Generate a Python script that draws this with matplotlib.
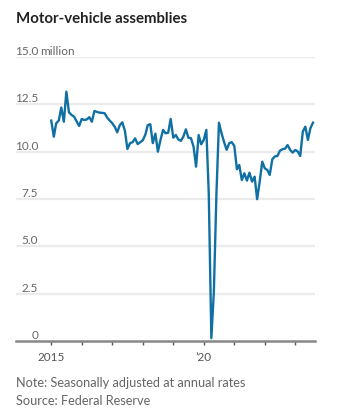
import numpy as np
import pandas as pd
import matplotlib
matplotlib.use("Agg")
import matplotlib.pyplot as plt
import matplotlib.dates as mdates

plt.rcParams['font.family'] = ['Lato', 'DejaVu Sans']

# monthly values, million units (annual rate), Jan 2015 - Aug 2023
assemblies = [
    # 2015
    11.64, 10.79, 11.50, 11.64, 12.33, 11.58, 13.17, 12.08, 11.94, 11.85, 11.60, 11.36,
    # 2016
    11.73, 11.67, 11.70, 11.82, 11.58, 12.15, 12.10, 12.06, 12.05, 12.03, 11.80, 11.64,
    # 2017
    11.50, 11.30, 11.02, 11.40, 11.55, 11.10, 10.14, 10.45, 10.50, 10.70, 10.40, 10.50,
    # 2018
    10.60, 10.90, 11.40, 11.45, 10.45, 10.95, 10.00, 10.62, 11.15, 10.97, 11.00, 11.73,
    # 2019
    10.74, 10.88, 10.65, 10.57, 10.79, 11.18, 10.74, 10.71, 10.26, 9.21, 10.88, 10.39,
    # 2020
    10.62, 11.15, 7.80, 0.15, 2.60, 7.80, 11.53, 10.97, 10.50, 10.10, 10.45, 10.50,
    # 2021
    10.30, 9.07, 9.30, 8.50, 8.86, 8.47, 8.89, 8.42, 8.68, 7.49, 8.42, 9.47,
    # 2022
    9.12, 9.03, 8.77, 9.60, 9.75, 9.77, 10.05, 10.13, 10.16, 10.35, 10.09, 9.95,
    # 2023
    10.09, 10.00, 9.77, 11.06, 11.32, 10.62, 11.24, 11.53,
]
dates = pd.date_range("2015-01-01", periods=len(assemblies), freq="MS")

y_ticks = [0, 2.5, 5.0, 7.5, 10.0, 12.5, 15.0]
y_labels = ["0", "2.5", "5.0", "7.5", "10.0", "12.5", "15.0"]
x_label_years = {2015: "2015", 2020: "\u201920"}

W, H = 337, 415
fig = plt.figure(figsize=(W / 100, H / 100), dpi=100)
ax = fig.add_axes([16 / W, 1 - 341 / H, (315 - 16) / W, (341 - 57) / H])

grid_color = "#ebebeb"
text_color = "#666666"

for v in y_ticks[1:]:
    ax.axhline(v, color=grid_color, lw=1.6, zorder=1)

ax.plot(dates, assemblies, color="#1070a3", lw=1.7, zorder=3,
        solid_joinstyle="round", clip_on=False)

ax.set_xlim(pd.Timestamp("2013-11-05"), pd.Timestamp("2023-08-25"))
ax.set_ylim(0, 15)

for s in ["top", "right", "left"]:
    ax.spines[s].set_visible(False)
ax.spines["bottom"].set_color("#888888")
ax.spines["bottom"].set_linewidth(1.8)
ax.spines["bottom"].set_zorder(4)

ax.set_yticks([])
year_ticks = [pd.Timestamp(f"{y}-01-01") for y in range(2015, 2024)]
ax.set_xticks(year_ticks)
ax.set_xticklabels([x_label_years.get(t.year, "") for t in year_ticks])
ax.tick_params(axis="x", length=3, width=1, color="#555555", labelsize=8.5,
               labelcolor="#555555", pad=5)

# y labels sit above the gridlines, right-aligned
lab_x = (38 - 16) / (315 - 16)
for v, lab in zip(y_ticks, y_labels):
    ax.text(lab_x, v, lab, transform=ax.get_yaxis_transform(), ha="right",
            va="bottom", fontsize=8.5, color=text_color)
    if v == 15.0:
        ax.text(lab_x + 0.008, v, "million", transform=ax.get_yaxis_transform(),
                ha="left", va="bottom", fontsize=8.5, color=text_color)

fig.text(16 / W, 1 - 19 / H, "Motor-vehicle assemblies", fontsize=10.85,
         fontweight="bold", color="#222222", ha="left", va="center")
fig.text(16 / W, 1 - 383 / H, "Note: Seasonally adjusted at annual rates",
         fontsize=9.2, color=text_color, ha="left", va="center")
fig.text(16 / W, 1 - 401 / H, "Source: Federal Reserve",
         fontsize=9.2, color=text_color, ha="left", va="center")

fig.savefig("out.png", dpi=100, facecolor="white")
